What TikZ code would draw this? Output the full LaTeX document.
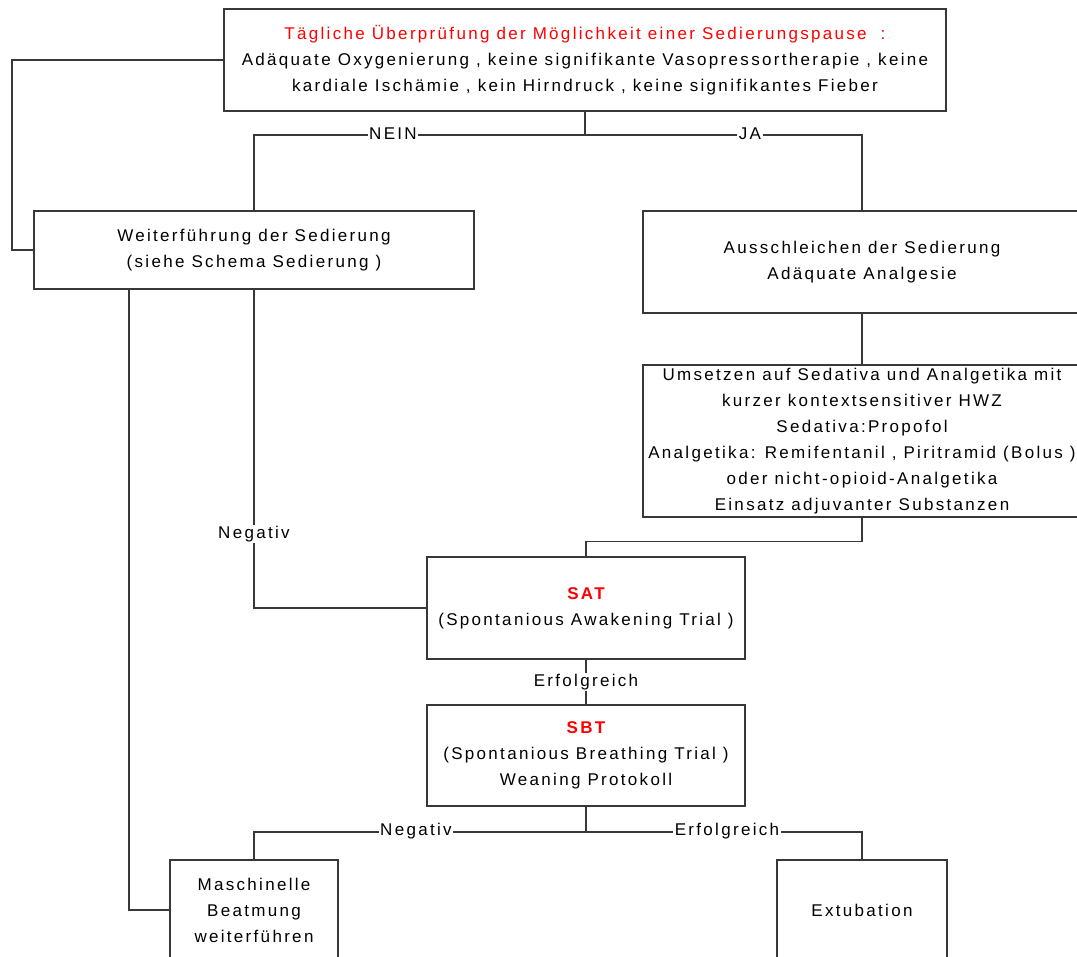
\documentclass[tikz,border=0pt]{standalone}
\usepackage{fontspec}
\setmainfont{Liberation Sans}[LetterSpace=13.6]
\begin{document}
\begin{tikzpicture}[x=1pt,y=-1pt,
  linec/.style={draw=black!78, line width=1.6pt},
  box/.style={linec, fill=white, inner sep=0pt, align=center,
    font=\fontsize{17}{26}\selectfont},
  lbl/.style={fill=white, inner sep=1.5pt, font=\fontsize{17}{20}\selectfont}]
\useasboundingbox (0,0) rectangle (1077,957);
\clip (0,0) rectangle (1077,957);

% boxes
\node[box, minimum width=722, minimum height=102] (top) at (585,60)
  {{\color{red}Tägliche Überprüfung der Möglichkeit einer Sedierungspause\ \ :}\\
   Adäquate Oxygenierung , keine signifikante Vasopressortherapie , keine\\
   kardiale Ischämie , kein Hirndruck , keine signifikantes Fieber};
\node[box, minimum width=440, minimum height=78] (weiter) at (254,250)
  {Weiterführung der Sedierung\\ (siehe Schema Sedierung )};
\node[box, minimum width=438, minimum height=102] (aus) at (862,262)
  {Ausschleichen der Sedierung\\Adäquate Analgesie};
\node[box, minimum width=438, minimum height=152] (ums) at (862,441)
  {Umsetzen auf Sedativa und Analgetika mit\\
   kurzer kontextsensitiver HWZ\\
   Sedativa:Propofol\\
   Analgetika: Remifentanil , Piritramid (Bolus )\\
   oder nicht-opioid-Analgetika\\
   Einsatz adjuvanter Substanzen};
\node[box, minimum width=318, minimum height=102] (sat) at (586,608)
  {{\color{red}\bfseries SAT}\\(Spontanious Awakening Trial )};
\node[box, minimum width=318, minimum height=101] (sbt) at (586,755.5)
  {{\color{red}\bfseries SBT}\\(Spontanious Breathing Trial )\\Weaning Protokoll};
\node[box, minimum width=168, minimum height=100] (masch) at (254,910)
  {Maschinelle\\Beatmung\\weiterführen};
\node[box, minimum width=170, minimum height=100] (ext) at (862,910)
  {Extubation};

% connectors (yshift works in page direction, so negative means downwards)
\coordinate (split1) at ([yshift=-23.5pt]top.south);
\coordinate (loop) at (12,60);
\coordinate (split2) at ([yshift=-23.5pt]ums.south);
\coordinate (split3) at ([yshift=-25pt]sbt.south);
\coordinate (leftrail) at (129,289);
\draw[linec] (top.south) -- (split1) -| (weiter.north);
\draw[linec] (split1) -| (aus.north);
\draw[linec] (top.west) -- (loop) |- (weiter.west);
\draw[linec] (aus.south) -- (ums.north);
\draw[linec] (ums.south) -- (split2) -| (sat.north);
\draw[linec] (weiter.south) |- (sat.west);
\draw[linec] (leftrail) |- (masch.west);
\draw[linec] (sat.south) -- (sbt.north);
\draw[linec] (sbt.south) -- (split3) -| (masch.north);
\draw[linec] (split3) -| (ext.north);

% connector labels
\node[lbl] (lnein) at (393,134) {NEIN};
\node[lbl] (lja) at (750,134) {JA};
\node[lbl] (lneg1) at (254,534) {Negativ};
\node[lbl] (lerf1) at (586,682) {Erfolgreich};
\node[lbl] (lneg2) at (416,831) {Negativ};
\node[lbl] (lerf2) at (727,831) {Erfolgreich};
\end{tikzpicture}
\end{document}
